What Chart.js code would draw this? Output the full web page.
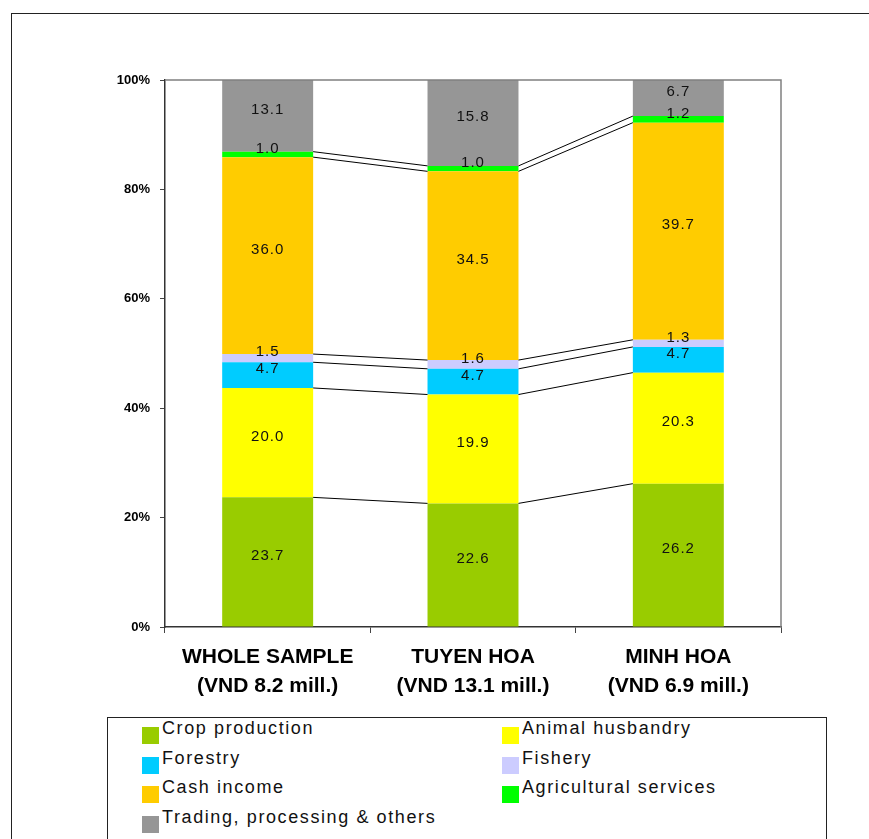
<!DOCTYPE html>
<html>
<head>
<meta charset="utf-8">
<script src="https://cdn.jsdelivr.net/npm/chart.js@4.4.1/dist/chart.umd.min.js"></script>
<style>
  body { margin: 0; background: #fff; width: 869px; height: 839px; overflow: hidden; position: relative; }
  #frame { position: absolute; left: 11px; top: 13px; width: 900px; height: 900px; border: 1.5px solid #222; }
  #chart { position: absolute; left: 0; top: 0; }
  #legend { position: absolute; left: 107px; top: 717px; width: 718px; height: 140px; border: 1.5px solid #222; background: #fff; }
  .item { position: absolute; height: 20px; }
  .sw { position: absolute; left: 0; top: 0; width: 17px; height: 17px; }
  .lbl { position: absolute; left: 20px; top: -9px; white-space: nowrap;
         font: 18px "Liberation Sans", Arial, sans-serif; letter-spacing: 1.6px; color: #111; }
</style>
</head>
<body>
<div id="frame"></div>
<canvas id="chart" width="869" height="717"></canvas>
<div id="legend"></div>
<script>
const categories = [["WHOLE SAMPLE", "(VND 8.2 mill.)"], ["TUYEN HOA", "(VND 13.1 mill.)"], ["MINH HOA", "(VND 6.9 mill.)"]];
const seriesNames = ["Crop production", "Animal husbandry", "Forestry", "Fishery", "Cash income", "Agricultural services", "Trading, processing & others"];
const seriesColors = ["#99CC00", "#FFFF00", "#00CCFF", "#CCCCFF", "#FFCC00", "#00FF00", "#969696"];

const crop = [23.7, 22.6, 26.2];
const animal = [20.0, 19.9, 20.3];
const forestry = [4.7, 4.7, 4.7];
const fishery = [1.5, 1.6, 1.3];
const cash = [36.0, 34.5, 39.7];
const agri = [1.0, 1.0, 1.2];
const trading = [13.1, 15.8, 6.7];
const seriesValues = [crop, animal, forestry, fishery, cash, agri, trading];

const yTicks = [0, 20, 40, 60, 80, 100];

const FONT = '"Liberation Sans", Arial, sans-serif';

// lines joining the top of each segment from bar to bar
const seriesLines = {
    id: "seriesLines",
    afterDatasetsDraw(chart) {
        const ctx = chart.ctx;
        ctx.save();
        ctx.strokeStyle = "#000";
        ctx.lineWidth = 1;
        for (let d = 0; d < chart.data.datasets.length - 1; d++) {
            const bars = chart.getDatasetMeta(d).data;
            for (let i = 0; i < bars.length - 1; i++) {
                const a = bars[i], b = bars[i + 1];
                ctx.beginPath();
                ctx.moveTo(a.x + a.width / 2, a.y);
                ctx.lineTo(b.x - b.width / 2, b.y);
                ctx.stroke();
            }
        }
        // plot area frame, top and right side
        const area = chart.chartArea;
        ctx.strokeStyle = "#808080";
        ctx.lineWidth = 1.5;
        ctx.beginPath();
        ctx.moveTo(area.left, area.top);
        ctx.lineTo(area.right, area.top);
        ctx.lineTo(area.right, area.bottom);
        ctx.stroke();

        // value labels
        ctx.fillStyle = "#111";
        ctx.font = "15px " + FONT;
        ctx.letterSpacing = "1px";
        ctx.textAlign = "center";
        ctx.textBaseline = "middle";
        chart.data.datasets.forEach((ds, d) => {
            chart.getDatasetMeta(d).data.forEach((bar, i) => {
                const cy = (bar.y + bar.base) / 2 - 6;
                ctx.fillText(ds.data[i].toFixed(1), bar.x, cy);
            });
        });
        ctx.restore();
    }
};

new Chart(document.getElementById("chart"), {
    type: "bar",
    data: {
        labels: categories,
        datasets: seriesValues.map((vals, i) => ({
            label: seriesNames[i],
            data: vals,
            backgroundColor: seriesColors[i],
            borderWidth: 0,
            categoryPercentage: 1,
            barPercentage: 0.443
        }))
    },
    options: {
        responsive: false,
        animation: false,
        layout: { padding: { left: 0, top: 80, right: 88, bottom: 0 } },
        plugins: { legend: { display: false }, tooltip: { enabled: false } },
        scales: {
            x: {
                stacked: true,
                afterFit(scale) { scale.height = 90; },
                grid: { drawOnChartArea: false, drawTicks: true, tickLength: 6, color: "#444" },
                border: { color: "#333", width: 1.5 },
                ticks: {
                    color: "#000",
                    padding: 10,
                    font: { family: FONT, size: 21, weight: "bold", lineHeight: 1.38 }
                }
            },
            y: {
                stacked: true,
                min: 0,
                max: 100,
                afterFit(scale) { scale.width = 165; },
                afterBuildTicks(scale) { scale.ticks = yTicks.map(v => ({ value: v })); },
                grid: { drawOnChartArea: false, drawTicks: true, tickLength: 5, color: "#444" },
                border: { color: "#333", width: 1.5 },
                ticks: {
                    color: "#000",
                    padding: 10,
                    font: { family: FONT, size: 13, weight: "bold" },
                    callback: v => v + "%"
                }
            }
        }
    },
    plugins: [seriesLines]
});

// legend box, two columns
const legend = document.getElementById("legend");
seriesNames.forEach((name, i) => {
    const item = document.createElement("div");
    item.className = "item";
    item.style.left = (34 + (i % 2) * 360) + "px";
    item.style.top = (9 + Math.floor(i / 2) * 29.5) + "px";
    item.innerHTML = '<div class="sw" style="background:' + seriesColors[i] + '"></div><div class="lbl"></div>';
    item.querySelector(".lbl").textContent = name;
    legend.appendChild(item);
});
</script>
</body>
</html>
